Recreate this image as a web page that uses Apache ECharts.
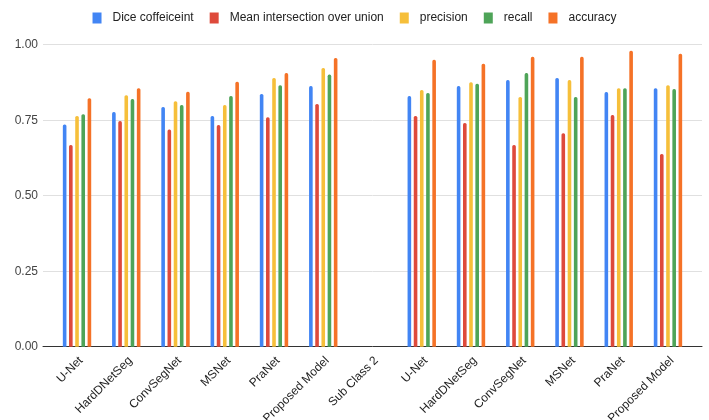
<!DOCTYPE html>
<html>
<head>
<meta charset="utf-8">
<script src="https://cdn.jsdelivr.net/npm/echarts@6/dist/echarts.min.js"></script>
<style>
  html, body { margin: 0; padding: 0; background: #fff; }
  #chart { width: 709px; height: 420px; }
</style>
</head>
<body>
<div id="chart"></div>
<script>
// Model names along the x axis (two sub-classes separated by a spacer category)
const categories = ['U-Net', 'HardDNetSeg', 'ConvSegNet', 'MSNet', 'PraNet', 'Proposed Model',
  'Sub Class 2',
  'U-Net', 'HardDNetSeg', 'ConvSegNet', 'MSNet', 'PraNet', 'Proposed Model'];

const seriesNames = ['Dice coffeiceint', 'Mean intersection over union', 'precision', 'recall', 'accuracy'];

// Metric values per category (null = no bar for the spacer)
const dice      = [0.736, 0.777, 0.794, 0.764, 0.837, 0.863, null, 0.830, 0.863, 0.883, 0.890, 0.843, 0.856];
const meanIoU   = [0.668, 0.747, 0.719, 0.734, 0.760, 0.804, null, 0.764, 0.741, 0.668, 0.707, 0.767, 0.638];
const precision = [0.764, 0.833, 0.813, 0.800, 0.890, 0.923, null, 0.850, 0.876, 0.827, 0.883, 0.856, 0.866];
const recall    = [0.770, 0.820, 0.800, 0.830, 0.866, 0.901, null, 0.840, 0.871, 0.906, 0.827, 0.856, 0.853];
const accuracy  = [0.823, 0.856, 0.844, 0.877, 0.906, 0.956, null, 0.950, 0.937, 0.960, 0.960, 0.980, 0.970];

const yTicks = [0, 0.25, 0.5, 0.75, 1.0];

const colors = ['#4285F4', '#DE4A3B', '#F6BF3A', '#4EA458', '#F57227'];
const values = [dice, meanIoU, precision, recall, accuracy];

const font = '"Liberation Sans", Arial, sans-serif';
const TOP = 44.7, BOTTOM = 73.3;

const chart = echarts.init(document.getElementById('chart'));

chart.setOption({
  animation: false,
  color: colors,
  legend: {
    top: 7,
    left: 'center',
    icon: 'rect',
    itemWidth: 9,
    itemHeight: 11,
    itemGap: 16,
    textStyle: { fontFamily: font, fontSize: 12, color: '#222', padding: [0, 0, 0, 6] },
    data: seriesNames
  },
  grid: [
    // bar area
    { left: 52.4, right: 16.4, top: TOP, bottom: BOTTOM, containLabel: false, outerBoundsMode: 'none' },
    // wider frame carrying the gridlines, baseline and y labels
    { left: 43, right: 7, top: TOP, bottom: BOTTOM, containLabel: false, outerBoundsMode: 'none' },
    // category label strip, anchored a little right of each bar group
    { left: 56.4, right: 12.4, top: TOP, bottom: BOTTOM, containLabel: false, outerBoundsMode: 'none' }
  ],
  xAxis: [
    {
      type: 'category',
      gridIndex: 0,
      data: categories,
      axisLine: { show: false },
      axisTick: { show: false },
      axisLabel: { show: false }
    },
    {
      type: 'value',
      gridIndex: 1,
      min: 0,
      max: 1,
      axisLine: { show: true, lineStyle: { color: '#333', width: 1 } },
      axisTick: { show: false },
      axisLabel: { show: false },
      splitLine: { show: false }
    },
    {
      type: 'category',
      gridIndex: 2,
      data: categories,
      axisLine: { show: false },
      axisTick: { show: false },
      axisLabel: {
        interval: 0,
        rotate: 45,
        margin: 12,
        fontFamily: font,
        fontSize: 12,
        color: '#222'
      }
    }
  ],
  yAxis: [
    {
      type: 'value',
      gridIndex: 0,
      min: 0,
      max: 1,
      interval: 0.25,
      show: false,
      splitLine: { show: false }
    },
    {
      type: 'value',
      gridIndex: 1,
      min: yTicks[0],
      max: yTicks[yTicks.length - 1],
      interval: 0.25,
      axisLine: { show: false },
      axisTick: { show: false },
      axisLabel: {
        margin: 5,
        fontFamily: font,
        fontSize: 12,
        color: '#444',
        formatter: v => v.toFixed(2)
      },
      splitLine: { lineStyle: { color: '#e0e0e0', width: 1 } }
    },
    {
      type: 'value',
      gridIndex: 2,
      min: 0,
      max: 1,
      show: false,
      splitLine: { show: false }
    }
  ],
  series: seriesNames.map((name, i) => ({
    name,
    type: 'bar',
    xAxisIndex: 0,
    yAxisIndex: 0,
    data: values[i],
    barWidth: 3.6,
    barGap: '72%',
    itemStyle: { color: colors[i], borderRadius: [1.6, 1.6, 0, 0] }
  }))
});
</script>
</body>
</html>
